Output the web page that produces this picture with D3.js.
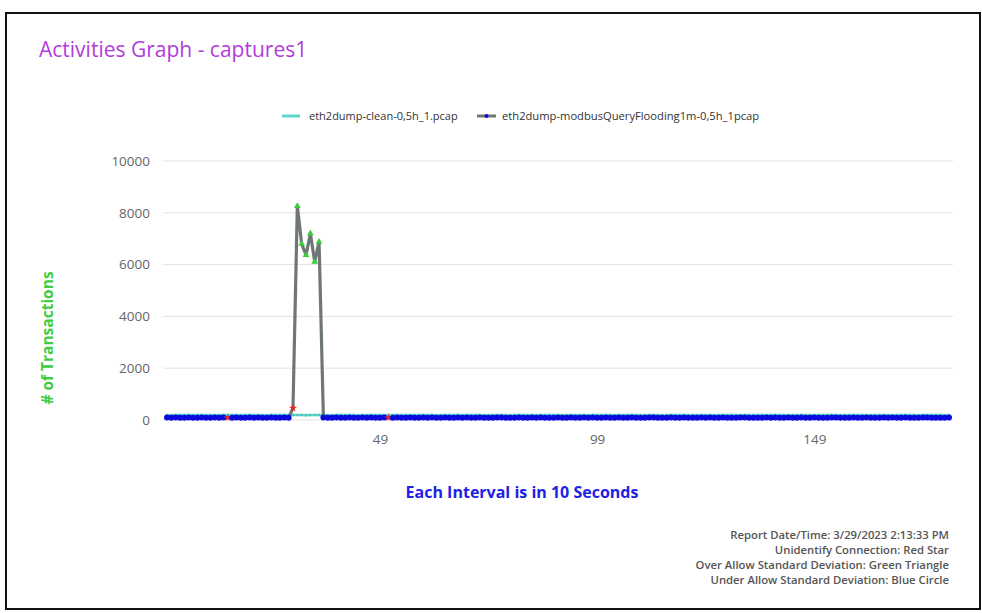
<!DOCTYPE html>
<html>
<head>
<meta charset="utf-8">
<script src="https://cdn.jsdelivr.net/npm/d3@7"></script>
<style>
  html, body { margin: 0; padding: 0; background: #fff; }
  svg { display: block; }
  text { font-family: "Open Sans", "Noto Sans", sans-serif; }
</style>
</head>
<body>
<svg id="chart" width="982" height="613"></svg>
<script>
// ---------------- data ----------------
const titleText = "Activities Graph - captures1";
const seriesNames = ["eth2dump-clean-0,5h_1.pcap", "eth2dump-modbusQueryFlooding1m-0,5h_1pcap"];
const categories = d3.range(0, 181);           // interval index
const xTickValues = [49, 99, 149];
const yTickValues = [0, 2000, 4000, 6000, 8000, 10000];

const cleanValues = [
 190,188,192,189,191,190,187,193,190,189, 191,188,190,192,189,190,191,188,190,193,
 189,190,191,188,190,192,189,190,191,189, 190,192,188,190,191,189,190,192,188,191,
 190,189,191,190,188,192,190,189,191,190, 188,190,192,189,191,190,188,191,190,189,
 192,190,188,191,190,189,191,190,188,192, 190,189,191,188,190,192,189,191,190,188,
 190,191,189,192,190,188,191,190,189,191, 190,188,192,190,189,191,190,188,190,192,
 189,191,190,188,191,190,189,192,190,188, 191,190,189,191,188,190,192,189,190,191,
 188,190,192,189,191,190,188,191,190,189, 192,190,188,191,190,189,191,190,188,192,
 190,189,191,188,190,192,189,191,190,188, 190,191,189,192,190,188,191,190,189,191,
 190,188,192,190,189,191,190,188,190,192, 189,191,190,188,191,190,189,192,190,188,
 191
];

const floodValues = [
  92, 88, 95, 90, 87, 93, 91, 89, 94, 90,  88, 92, 90, 95, 89, 91, 93, 87, 90, 92,
  89, 94, 90, 88, 92, 91, 89, 93, 90,460, 8260,6800,6370,7200,6110,6880, 95, 90, 88, 92,
  91, 89, 94, 90, 87, 93, 90, 92, 89, 91,  95, 90, 88, 92, 90, 89, 93, 91, 88, 94,
  90, 92, 89, 91, 93, 88, 90, 94, 89, 92,  90, 88, 93, 91, 90, 89, 92, 94, 88, 90,
  91, 93, 89, 90, 92, 88, 94, 90, 91, 89,  93, 90, 88, 92, 91, 89, 94, 90, 92, 88,
  90, 93, 91, 89, 92, 90, 88, 94, 90, 91,  89, 92, 93, 88, 90, 91, 94, 89, 90, 92,
  88, 91, 90, 93, 89, 92, 90, 88, 94, 91,  90, 89, 92, 93, 88, 90, 91, 89, 94, 90,
  92, 88, 90, 93, 91, 89, 92, 90, 88, 94,  90, 91, 89, 92, 93, 88, 90, 91, 94, 89,
  90, 92, 88, 91, 90, 93, 89, 92, 90, 88,  94, 91, 90, 89, 92, 93, 88, 90, 91, 89,
  92
];

// marker status of flooding series points
const overDeviationIdx = [30, 31, 32, 33, 34, 35];   // green triangle
const unidentifiedIdx = [14, 29, 51];                 // red star

const footerLines = [
  "Report Date/Time: 3/29/2023 2:13:33 PM",
  "Unidentify Connection: Red Star",
  "Over Allow Standard Deviation: Green Triangle",
  "Under Allow Standard Deviation: Blue Circle"
];
const xAxisTitle = "Each Interval is in 10 Seconds";
const yAxisTitle = "# of Transactions";

// ---------------- drawing ----------------
const svg = d3.select("#chart");

// frame
svg.append("rect").attr("x", 6).attr("y", 13).attr("width", 974).attr("height", 596)
  .attr("fill", "#fff").attr("stroke", "#111").attr("stroke-width", 2);

svg.append("text").attr("x", 39).attr("y", 57)
  .attr("font-size", 21).attr("fill", "#b23cd9").text(titleText);

const x = d3.scaleLinear().domain([0, 180]).range([167, 949]);
const y = d3.scaleLinear().domain([0, 10000]).range([420, 161]);

// gridlines
const grid = svg.append("g");
grid.selectAll("line").data(yTickValues).join("line")
  .attr("x1", 163).attr("x2", 953)
  .attr("y1", d => y(d)).attr("y2", d => y(d))
  .attr("stroke", "#e2e2e2").attr("stroke-width", 1);

// y axis labels
const yAxis = d3.axisLeft(y).tickValues(yTickValues).tickSize(0).tickPadding(0)
  .tickFormat(d3.format("d"));
const yg = svg.append("g").attr("transform", "translate(150,0)").call(yAxis);
yg.select(".domain").remove();
yg.selectAll("text").attr("font-size", 13.5).attr("fill", "#666")
  .attr("font-family", "'Open Sans', 'Noto Sans', sans-serif");

// x axis labels
const xAxis = d3.axisBottom(x).tickValues(xTickValues).tickSize(0).tickPadding(0)
  .tickFormat(d => categories[d]);
const xg = svg.append("g").attr("transform", "translate(0,434)").call(xAxis);
xg.select(".domain").remove();
xg.selectAll("text").attr("font-size", 13.5).attr("fill", "#666")
  .attr("font-family", "'Open Sans', 'Noto Sans', sans-serif");

// lines
const line = d3.line().x((d, i) => x(i)).y(d => y(d));
svg.append("path").datum(cleanValues).attr("d", line)
  .attr("fill", "none").attr("stroke", "#5fd6c8").attr("stroke-width", 2.5);
svg.append("g").selectAll("circle").data(cleanValues).join("circle")
  .attr("cx", (d, i) => x(i)).attr("cy", d => y(d)).attr("r", 1.3)
  .attr("fill", "#4fc8ba");

svg.append("path").datum(floodValues).attr("d", line)
  .attr("fill", "none").attr("stroke", "#6f7776").attr("stroke-width", 3.2)
  .attr("stroke-linejoin", "round");

// markers
const mk = svg.append("g");
floodValues.forEach((v, i) => {
  const cx = x(i), cy = y(v);
  if (overDeviationIdx.includes(i)) {
    mk.append("path").attr("d", d3.symbol(d3.symbolTriangle, 20)())
      .attr("transform", `translate(${cx},${cy})`).attr("fill", "#3ecc3e");
  } else if (unidentifiedIdx.includes(i)) {
    mk.append("path").attr("d", d3.symbol(d3.symbolStar, 20)())
      .attr("transform", `translate(${cx},${cy})`).attr("fill", "#ee2222");
  } else {
    mk.append("circle").attr("cx", cx).attr("cy", cy).attr("r", 3)
      .attr("fill", "#0a0adf");
  }
});

// legend
const lg = svg.append("g");
lg.append("line").attr("x1", 282).attr("x2", 300).attr("y1", 116).attr("y2", 116)
  .attr("stroke", "#5fd6c8").attr("stroke-width", 3);
lg.append("text").attr("x", 309).attr("y", 120).attr("font-size", 11).attr("fill", "#333")
  .text(seriesNames[0]);
lg.append("line").attr("x1", 477).attr("x2", 496).attr("y1", 116).attr("y2", 116)
  .attr("stroke", "#6f7776").attr("stroke-width", 3);
lg.append("circle").attr("cx", 486.5).attr("cy", 116).attr("r", 2).attr("fill", "#0a0adf");
lg.append("text").attr("x", 502).attr("y", 120).attr("font-size", 11.2).attr("fill", "#333")
  .text(seriesNames[1]);

// axis titles
svg.append("text").attr("transform", "translate(53,338) rotate(-90)")
  .attr("text-anchor", "middle").attr("font-size", 15.5).attr("font-weight", "bold")
  .attr("fill", "#3fcc3f").text(yAxisTitle);
svg.append("text").attr("x", 522).attr("y", 498).attr("text-anchor", "middle")
  .attr("font-size", 16).attr("font-weight", "bold").attr("fill", "#2121e6")
  .text(xAxisTitle);

// footer
svg.append("g").selectAll("text").data(footerLines).join("text")
  .attr("x", 949).attr("y", (d, i) => 539 + i * 15).attr("text-anchor", "end")
  .attr("font-size", 11.3).attr("font-weight", 600).attr("fill", "#555")
  .text(d => d);
</script>
</body>
</html>
